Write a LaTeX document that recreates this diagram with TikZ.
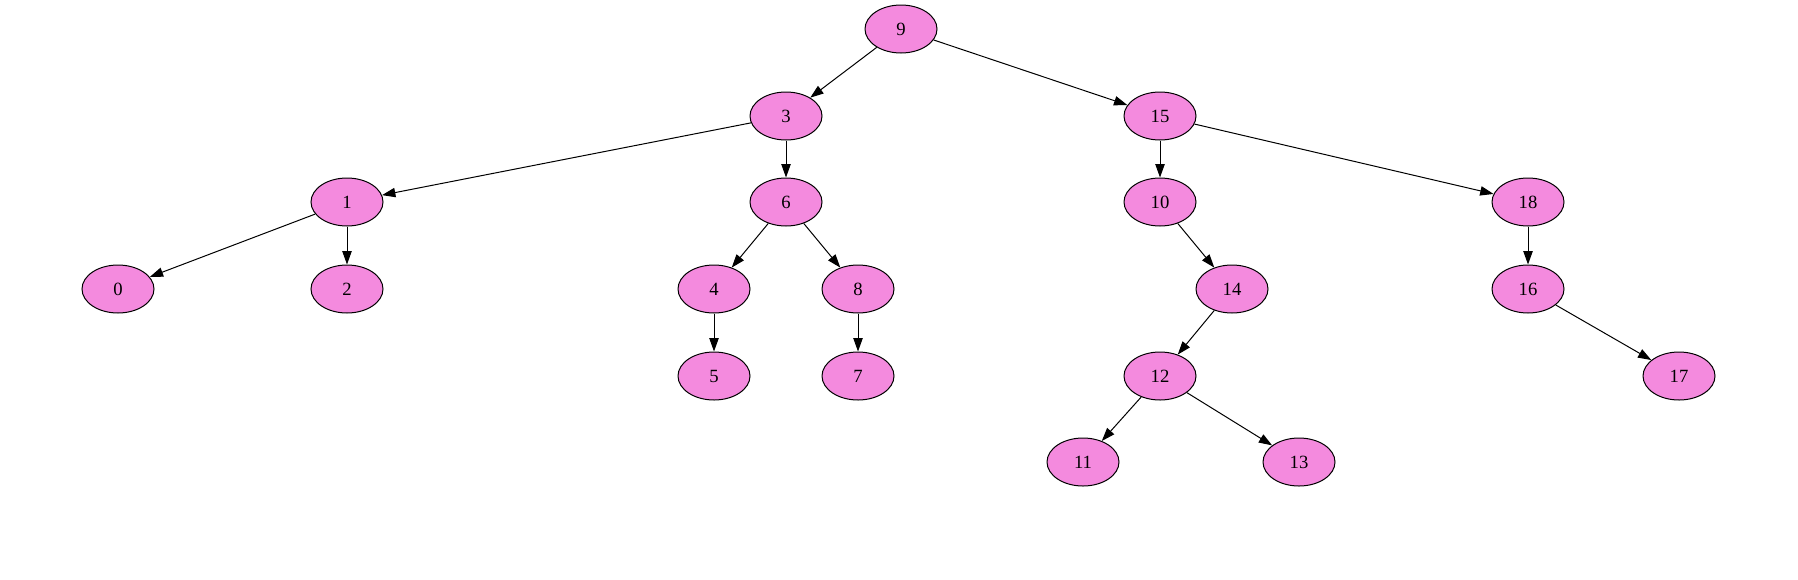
\documentclass[tikz,border=0pt]{standalone}
\usepackage{fontspec}
\setmainfont{Liberation Serif}
\usetikzlibrary{shapes.geometric,arrows.meta}
\definecolor{nodefill}{HTML}{F48ADE}
\tikzset{
  tn/.style={ellipse, draw=black, fill=nodefill, line width=0.75pt,
    minimum width=54pt, minimum height=36pt, inner sep=0pt, font=\fontsize{14pt}{16pt}\selectfont},
  edge/.style={draw=black, line width=0.75pt, -{Triangle[length=10pt,width=7pt]}}
}
\begin{document}
\begin{tikzpicture}[x=0.75pt,y=-0.75pt]
\useasboundingbox (0,0) rectangle (1798,579);
\node[tn] (n9)  at (901,29) {9};
\node[tn] (n3)  at (786,116) {3};
\node[tn] (n15) at (1160,116) {15};
\node[tn] (n1)  at (347,202) {1};
\node[tn] (n6)  at (786,202) {6};
\node[tn] (n10) at (1160,202) {10};
\node[tn] (n18) at (1528,202) {18};
\node[tn] (n0)  at (118,289) {0};
\node[tn] (n2)  at (347,289) {2};
\node[tn] (n4)  at (714,289) {4};
\node[tn] (n8)  at (858,289) {8};
\node[tn] (n14) at (1232,289) {14};
\node[tn] (n16) at (1528,289) {16};
\node[tn] (n5)  at (714,376) {5};
\node[tn] (n7)  at (858,376) {7};
\node[tn] (n12) at (1160,376) {12};
\node[tn] (n17) at (1679,376) {17};
\node[tn] (n11) at (1083,462) {11};
\node[tn] (n13) at (1299,462) {13};
\draw[edge] (n9) -- (n3);
\draw[edge] (n9) -- (n15);
\draw[edge] (n3) -- (n1);
\draw[edge] (n3) -- (n6);
\draw[edge] (n1) -- (n0);
\draw[edge] (n1) -- (n2);
\draw[edge] (n6) -- (n4);
\draw[edge] (n6) -- (n8);
\draw[edge] (n4) -- (n5);
\draw[edge] (n8) -- (n7);
\draw[edge] (n15) -- (n10);
\draw[edge] (n15) -- (n18);
\draw[edge] (n10) -- (n14);
\draw[edge] (n14) -- (n12);
\draw[edge] (n12) -- (n11);
\draw[edge] (n12) -- (n13);
\draw[edge] (n18) -- (n16);
\draw[edge] (n16) -- (n17);
\end{tikzpicture}
\end{document}
